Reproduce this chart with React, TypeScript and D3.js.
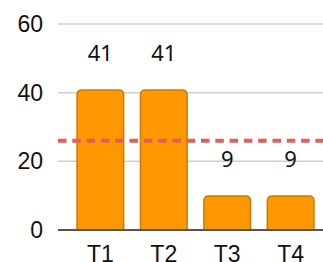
import React from "react";
import * as d3 from "d3";

const WIDTH = 323;
const HEIGHT = 262;
const MARGIN = { top: 24, right: -10, bottom: 32, left: 58 };

const categories = ["T1", "T2", "T3", "T4"];
const values = [40.8, 40.8, 9.9, 9.9];
const valueLabels = ["41", "41", "9", "9"];
const yTicks = [0, 20, 40, 60];
const referenceValue = 26;

const BAR_FILL = "#ff9800";
const BAR_STROKE = "#c97a06";

// rounded top corners, square bottom
const barPath = (x: number, y: number, w: number, h: number, r: number) => {
    const rr = Math.min(r, h / 2, w / 2);
    return `M${x},${y + h} L${x},${y + rr} Q${x},${y} ${x + rr},${y} L${x + w - rr},${y} Q${x + w},${y} ${x + w},${y + rr} L${x + w},${y + h} Z`;
};

export default function App() {
    const x0 = MARGIN.left;
    const x1 = WIDTH - MARGIN.right;
    const y0 = HEIGHT - MARGIN.bottom;

    const xScale = d3.scaleBand()
        .domain(categories)
        .range([x0, x1])
        .paddingInner(0.265)
        .paddingOuter(0.3);

    const yScale = d3.scaleLinear()
        .domain([0, 60])
        .range([y0, MARGIN.top]);

    const font = "'Liberation Sans', Arial, sans-serif";

    return (
        <svg
            width={WIDTH}
            height={HEIGHT}
            style={{ position: "absolute", left: 0, top: 0, background: "#fff" }}
        >
            {/* grid */}
            {yTicks.filter((t) => t > 0).map((t) => (
                <line
                    key={t}
                    x1={x0}
                    x2={x1}
                    y1={yScale(t)}
                    y2={yScale(t)}
                    stroke="#cfcfcf"
                    strokeWidth={1.5}
                />
            ))}
            {yTicks.map((t) => (
                <text
                    key={"l" + t}
                    x={43}
                    y={yScale(t)}
                    textAnchor="end"
                    dominantBaseline="central"
                    fontFamily={font}
                    fontSize={23}
                    fill="#111"
                >
                    {t}
                </text>
            ))}

            {/* bars */}
            {categories.map((c, i) => {
                const bx = xScale(c) ?? 0;
                const by = yScale(values[i]);
                return (
                    <path
                        key={c}
                        d={barPath(bx, by, xScale.bandwidth(), y0 - by, 5)}
                        fill={BAR_FILL}
                        stroke={BAR_STROKE}
                        strokeWidth={1.5}
                    />
                );
            })}

            {/* value labels */}
            {categories.map((c, i) => (
                <text
                    key={"v" + c}
                    x={(xScale(c) ?? 0) + xScale.bandwidth() / 2}
                    y={yScale(values[i]) - 29}
                    textAnchor="middle"
                    fontFamily="'Noto Sans', sans-serif"
                    fontSize={22}
                    fill="#111"
                >
                    {valueLabels[i]}
                </text>
            ))}

            {/* x axis */}
            <line x1={x0} x2={x1} y1={y0} y2={y0} stroke="#555" strokeWidth={2} />
            {categories.map((c) => (
                <text
                    key={"x" + c}
                    x={(xScale(c) ?? 0) + xScale.bandwidth() / 2}
                    y={262}
                    textAnchor="middle"
                    fontFamily={font}
                    fontSize={23}
                    fill="#111"
                >
                    {c}
                </text>
            ))}

            {/* reference line */}
            <line
                x1={x0}
                x2={x1}
                y1={yScale(referenceValue)}
                y2={yScale(referenceValue)}
                stroke="#e35d5d"
                strokeWidth={4}
                strokeDasharray="8.5 5.8"
            />
        </svg>
    );
}
